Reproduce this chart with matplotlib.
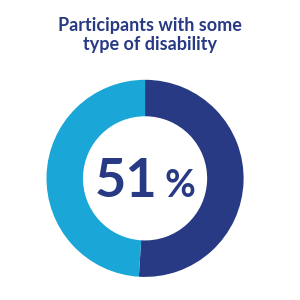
import matplotlib.pyplot as plt

labels = ["With disability", "Without disability"]
values = [51, 49]
colors = ["#283A83", "#1AA6D6"]
title = "Participants with some\ntype of disability"

fig = plt.figure(figsize=(3, 3), dpi=100)
fig.patch.set_facecolor("white")

ax = fig.add_axes([0.155, 0.077, 0.657, 0.657])
ax.pie(values, colors=colors, startangle=90, counterclock=False,
       wedgeprops=dict(width=0.37, linewidth=0))
ax.set_xlim(-1, 1)
ax.set_ylim(-1, 1)
ax.set_aspect("equal")
ax.axis("off")

fig.text(0.5, 0.883, title, ha="center", va="center", fontsize=13,
         fontweight="bold", color="#283A83", family="Lato", linespacing=1.15)

ax.text(0.13, -0.19, f"{values[0]}", ha="right", va="baseline", fontsize=39,
        fontweight="bold", color="#283A83", family="Lato")
ax.text(0.2, -0.19, "%", ha="left", va="baseline", fontsize=27,
        fontweight="bold", color="#283A83", family="Lato")

fig.savefig("out.png", dpi=100, facecolor="white")
